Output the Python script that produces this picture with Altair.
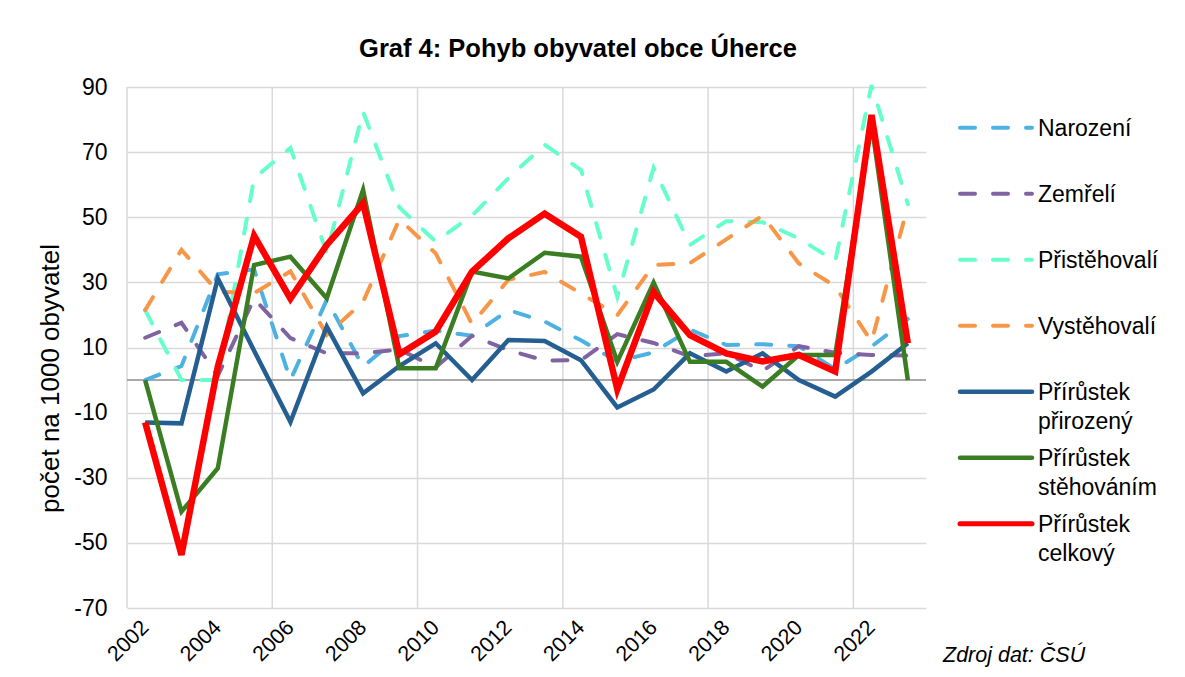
import altair as alt
import pandas as pd
import numpy as np

FONT = "Liberation Sans"

years = list(range(2002, 2024))

narozeni = [0, 4.3, 32.5, 34, 0, 24.6, 4.1, 13.5, 15.2, 13.6, 21.5, 18, 12.2, 5.7,
            8.5, 15.5, 10.8, 11, 10.4, 3.3, 10.3, 18.8]
zemreli = [13, 17.6, 1.3, 25, 12.9, 8.2, 8.2, 9.4, 3.9, 13.6, 9.2, 6, 6.1, 14.1,
           11.4, 7.3, 8.2, 2.8, 10.4, 8.4, 7.7, 7.5]
pristehovali = [21.5, 0, 0, 62, 71.3, 39, 82.4, 53, 42.5, 50.5, 62, 72.3, 64.5, 25.5,
                65.2, 41.5, 48.8, 48.5, 43.5, 36.5, 90.6, 54]
vystehovali = [21.5, 40, 27.1, 26.7, 33.4, 13.9, 24, 49.4, 38.9, 17.2, 30.8, 33.2, 26.6, 19.9,
               35.3, 35.9, 43.2, 50.5, 35.8, 28.8, 11.8, 53.5]
prirozeny = [-13, -13.3, 31.2, 9, -12.9, 16.4, -4.1, 4.3, 11.3, 0, 12.3, 12, 6.1, -8.4,
             -2.9, 8.2, 2.6, 8.2, 0, -5.1, 2.6, 11.3]
stehovanim = [0, -40.4, -27.1, 35.3, 37.9, 25.1, 58.4, 3.6, 3.6, 33.3, 31.2, 39.1, 37.9, 5.6,
              29.9, 5.6, 5.6, -2, 7.7, 7.7, 78.8, 0]
celkovy = [-13, -53.7, 4.1, 44.3, 25, 41.5, 54.3, 7.9, 14.9, 33.3, 43.5, 51.1, 44, -2.8,
           27, 13.8, 8.2, 5.7, 7.7, 2.6, 81.4, 11.3]

series_values = [narozeni, zemreli, pristehovali, vystehovali, prirozeny, stehovanim, celkovy]
series_names = ["Narození", "Zemřelí", "Přistěhovalí", "Vystěhovalí",
                "Přírůstek přirozený", "Přírůstek stěhováním", "Přírůstek celkový"]
legend_labels = ["Narození", "Zemřelí", "Přistěhovalí", "Vystěhovalí",
                 "Přírůstek\npřirozený", "Přírůstek\nstěhováním", "Přírůstek\ncelkový"]
colors = ["#4DB1E2", "#8064A2", "#66FFCC", "#F79646", "#255E91", "#3B7D23", "#FF0000"]
dashed = [True, True, True, True, False, False, False]
widths = [4, 4, 4, 4, 4.5, 4.5, 6.5]

title_text = "Graf 4: Pohyb obyvatel obce Úherce"
y_title = "počet na 1000 obyvatel"
source_text = "Zdroj dat: ČSÚ"

y_ticks = list(range(-70, 91, 20))
x_ticks = list(range(2002, 2023, 2))

W, H = 799, 521

x_enc = alt.X(
    "year:Q",
    scale=alt.Scale(domain=[2001.5, 2023.5], nice=False, zero=False),
    axis=alt.Axis(values=x_ticks, format="d", labelAngle=-45, labelAlign="right",
                  labelBaseline="middle", labelPadding=16, labelFontSize=21.5,
                  labelFont=FONT, labelColor="black", grid=False, domain=False,
                  ticks=False, title=None, labelOverlap=False, labelFlush=False),
)
y_enc = alt.Y(
    "value:Q",
    scale=alt.Scale(domain=[-70, 90], nice=False, zero=False),
    axis=alt.Axis(values=y_ticks, labelExpr="toString(datum.value)",
                  grid=True, gridColor="#D9D9D9", gridWidth=1.5,
                  domain=False, ticks=False, labelFontSize=23, labelPadding=20,
                  labelFont=FONT, labelColor="black", title=y_title, titleFontSize=26,
                  titleFont=FONT, titleFontWeight="normal", titleColor="black",
                  titleX=-69, titleY=291, titleAngle=270, titleAlign="center",
                  titleBaseline="alphabetic"),
)

layers = []

# vertical gridlines every 4 categories (category boundaries)
vgrid = pd.DataFrame({"year": np.arange(years[0] - 0.5, years[-1], 4)})
layers.append(alt.Chart(vgrid).mark_rule(color="#D9D9D9", strokeWidth=1.5).encode(x=x_enc))

# zero line
zero_df = pd.DataFrame({"value": [0]})
layers.append(alt.Chart(zero_df).mark_rule(color="#8C8C8C", strokeWidth=1.5).encode(y=y_enc))

for name, vals, col, dsh, w in zip(series_names, series_values, colors, dashed, widths):
    df = pd.DataFrame({"year": years, "value": vals, "series": name})
    kw = dict(color=col, strokeWidth=w)
    if dsh:
        kw.update(strokeDash=[15, 18], strokeCap="round")
    layers.append(alt.Chart(df).mark_line(**kw).encode(x=x_enc, y=y_enc))

# manual legend
leg_x0, leg_x1, leg_tx = 833, 905, 911
leg_y0, leg_dy = 40.7, 66.0
for i, (lab, col, dsh, w) in enumerate(zip(legend_labels, colors, dashed, widths)):
    ly = leg_y0 + i * leg_dy
    kw = dict(color=col, strokeWidth=min(w, 5))
    if dsh:
        kw.update(strokeDash=[15, 18], strokeCap="round")
    else:
        kw.update(strokeCap="round")
    layers.append(
        alt.Chart(pd.DataFrame({"n": [0]})).mark_rule(**kw).encode(
            x=alt.value(leg_x0), x2=alt.value(leg_x1), y=alt.value(ly))
    )
    layers.append(
        alt.Chart(pd.DataFrame({"label": [lab]})).mark_text(
            align="left", baseline="alphabetic", fontSize=23, font=FONT,
            lineBreak="\n", lineHeight=28.5, color="black").encode(
            x=alt.value(leg_tx), y=alt.value(ly + 8.5), text="label:N")
    )

# chart title
layers.append(
    alt.Chart(pd.DataFrame({"t": [title_text]})).mark_text(
        align="center", baseline="alphabetic", fontSize=25.5, fontWeight="bold",
        font=FONT, color="black").encode(x=alt.value(451), y=alt.value(-30), text="t:N")
)
# source note
layers.append(
    alt.Chart(pd.DataFrame({"t": [source_text]})).mark_text(
        align="left", baseline="alphabetic", fontSize=21.5, fontStyle="italic",
        font=FONT, color="black").encode(x=alt.value(816), y=alt.value(575), text="t:N")
)

chart = alt.layer(*layers).properties(
    width=W, height=H,
    autosize=alt.AutoSizeParams(type="none"),
    padding={"left": 119, "top": 79, "right": 251, "bottom": 61},
).configure_view(stroke=None)

chart.save("out.html", embed_options={"renderer": "svg", "actions": False})
